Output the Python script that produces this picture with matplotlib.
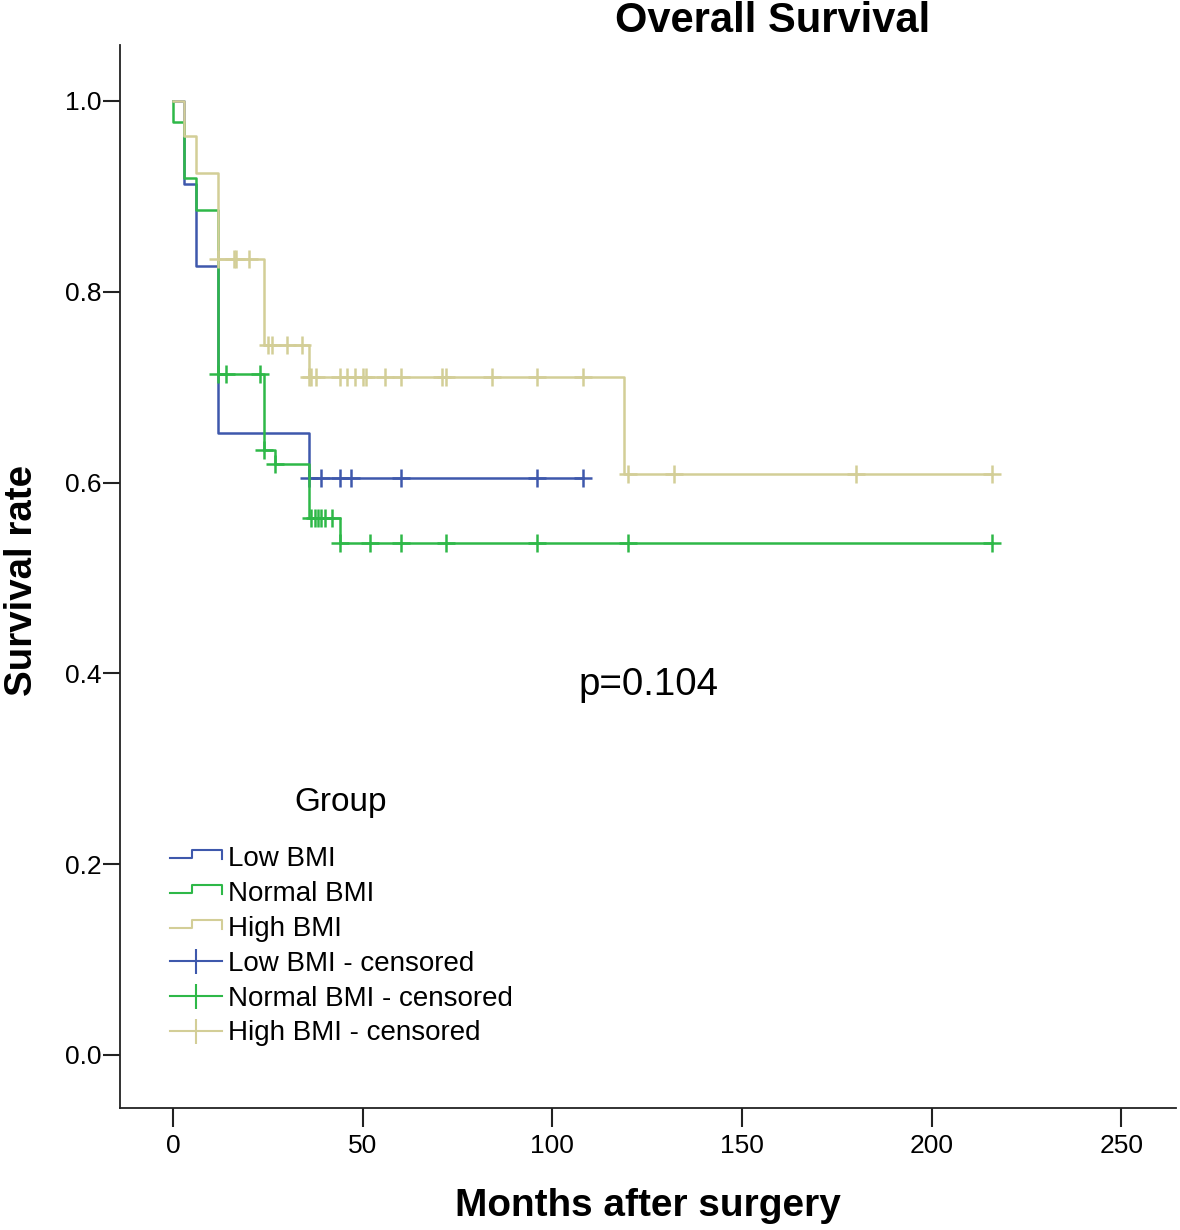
import numpy as np
import matplotlib
matplotlib.use("Agg")
import matplotlib.pyplot as plt
from matplotlib.lines import Line2D
from matplotlib.legend_handler import HandlerBase

plt.rcParams['font.family'] = ['Liberation Sans', 'DejaVu Sans']

# ---------------- data ----------------
groups = ["Low BMI", "Normal BMI", "High BMI"]
colors = ["#3E58AC", "#2EB848", "#D3CE97"]

low_times = [0, 3, 6, 12, 36]
low_surv = [1.0, 0.913, 0.827, 0.652, 0.605]
low_censor = [36, 39, 44, 47, 60, 96, 108]

normal_times = [0, 0, 3, 6, 12, 24, 27, 36, 44]
normal_surv = [1.0, 0.978, 0.919, 0.886, 0.7135, 0.634, 0.619, 0.563, 0.537]
normal_censor = [12, 14, 23, 24, 27, 36.5, 37.4, 38.2, 39.1, 40, 42, 44, 52,
                 60, 72, 96, 120, 216]

high_times = [0, 3, 6, 12, 24, 36, 119]
high_surv = [1.0, 0.963, 0.924, 0.834, 0.744, 0.711, 0.609]
high_censor = [12, 16, 16.6, 20, 25, 26, 30, 34, 36, 36.5, 37.6, 44, 46, 48,
               50, 51, 56, 60, 71, 72, 84, 96, 108, 120, 132, 180, 216]

x_ticks = [0, 50, 100, 150, 200, 250]
y_ticks = [0.0, 0.2, 0.4, 0.6, 0.8, 1.0]
p_text = "p=0.104"

series = [
    (low_times, low_surv, low_censor),
    (normal_times, normal_surv, normal_censor),
    (high_times, high_surv, high_censor),
]

# ---------------- figure ----------------
W, H = 1180, 1230
fig = plt.figure(figsize=(W / 100, H / 100), dpi=100)
ax = fig.add_axes([120 / W, (H - 1108) / H, (1176 - 120) / W, (1108 - 45) / H])

LW = 1.8
for (t, s, c), col, z in zip(series, colors, [2, 3, 4]):
    t = np.asarray(t, float)
    s = np.asarray(s, float)
    c = np.asarray(c, float)
    end = max(t.max(), c.max())
    ax.step(np.append(t, end), np.append(s, s[-1]), where='post',
            color=col, lw=LW, zorder=z)
    idx = np.searchsorted(t, c, side='right') - 1
    ax.plot(c, s[idx], ls='none', marker='+', ms=13, mew=1.8,
            color=col, zorder=z)

ax.set_xlim(-13.95, 264.4)
ax.set_ylim(-0.0556, 1.0587)
ax.set_xticks(x_ticks)
ax.set_xticklabels([str(v) for v in x_ticks])
ax.set_yticks(y_ticks)
ax.set_yticklabels([f"{v:.1f}" for v in y_ticks])
ax.tick_params(axis='x', length=14, width=1.5, pad=5, labelsize=19,
               direction='out', color='#222222')
ax.tick_params(axis='y', length=12, width=1.5, pad=1.5, labelsize=19,
               direction='out', color='#222222')
for sp in ['top', 'right']:
    ax.spines[sp].set_visible(False)
for sp in ['left', 'bottom']:
    ax.spines[sp].set_linewidth(1.3)
    ax.spines[sp].set_color('#222222')

ax.text(125.3, 0.388, p_text, ha='center', va='center', fontsize=27.7)

fig.text(773 / W, 1 - 21 / H, "Overall Survival", ha='center', va='center',
         fontsize=30, fontweight='bold')
fig.text(22 / W, 1 - 580 / H, "Survival rate", ha='center', va='center',
         rotation=90, fontsize=27.7, fontweight='bold')
fig.text(648 / W, 1 - 1206 / H, "Months after surgery", ha='center',
         va='center', fontsize=27.9, fontweight='bold')


# ---------------- legend ----------------
class StepHandler(HandlerBase):
    def create_artists(self, legend, orig_handle, xdescent, ydescent,
                       width, height, fontsize, trans):
        x0 = -xdescent
        ym = -ydescent + height / 2.0
        lo = ym - 1.5
        hi = ym + 4.5
        xs = [x0, x0 + 0.42 * width, x0 + 0.42 * width, x0 + width, x0 + width]
        ys = [lo, lo, hi, hi, lo - 0.5]
        ln = Line2D(xs, ys, color=orig_handle.get_color(), lw=1.5,
                    transform=trans)
        return [ln]


step_handles = [Line2D([], [], color=c, lw=1.5) for c in colors]
cens_handles = [Line2D([], [], color=c, lw=1.5, marker='|', ms=18, mew=1.5)
                for c in colors]
labels = groups + [g + " - censored" for g in groups]
handler_map = {h: StepHandler() for h in step_handles}
leg = fig.legend(step_handles + cens_handles, labels, handler_map=handler_map,
                 loc='upper left', bbox_to_anchor=(170 / W, 1 - 846 / H),
                 bbox_transform=fig.transFigure, frameon=False, borderpad=0,
                 borderaxespad=0, handlelength=1.87, handletextpad=0.22,
                 labelspacing=0.32, fontsize=20, numpoints=1)
fig.text(341 / W, 1 - 803 / H, "Group", ha='center', va='center', fontsize=24)

fig.savefig("out.png", dpi=100)
